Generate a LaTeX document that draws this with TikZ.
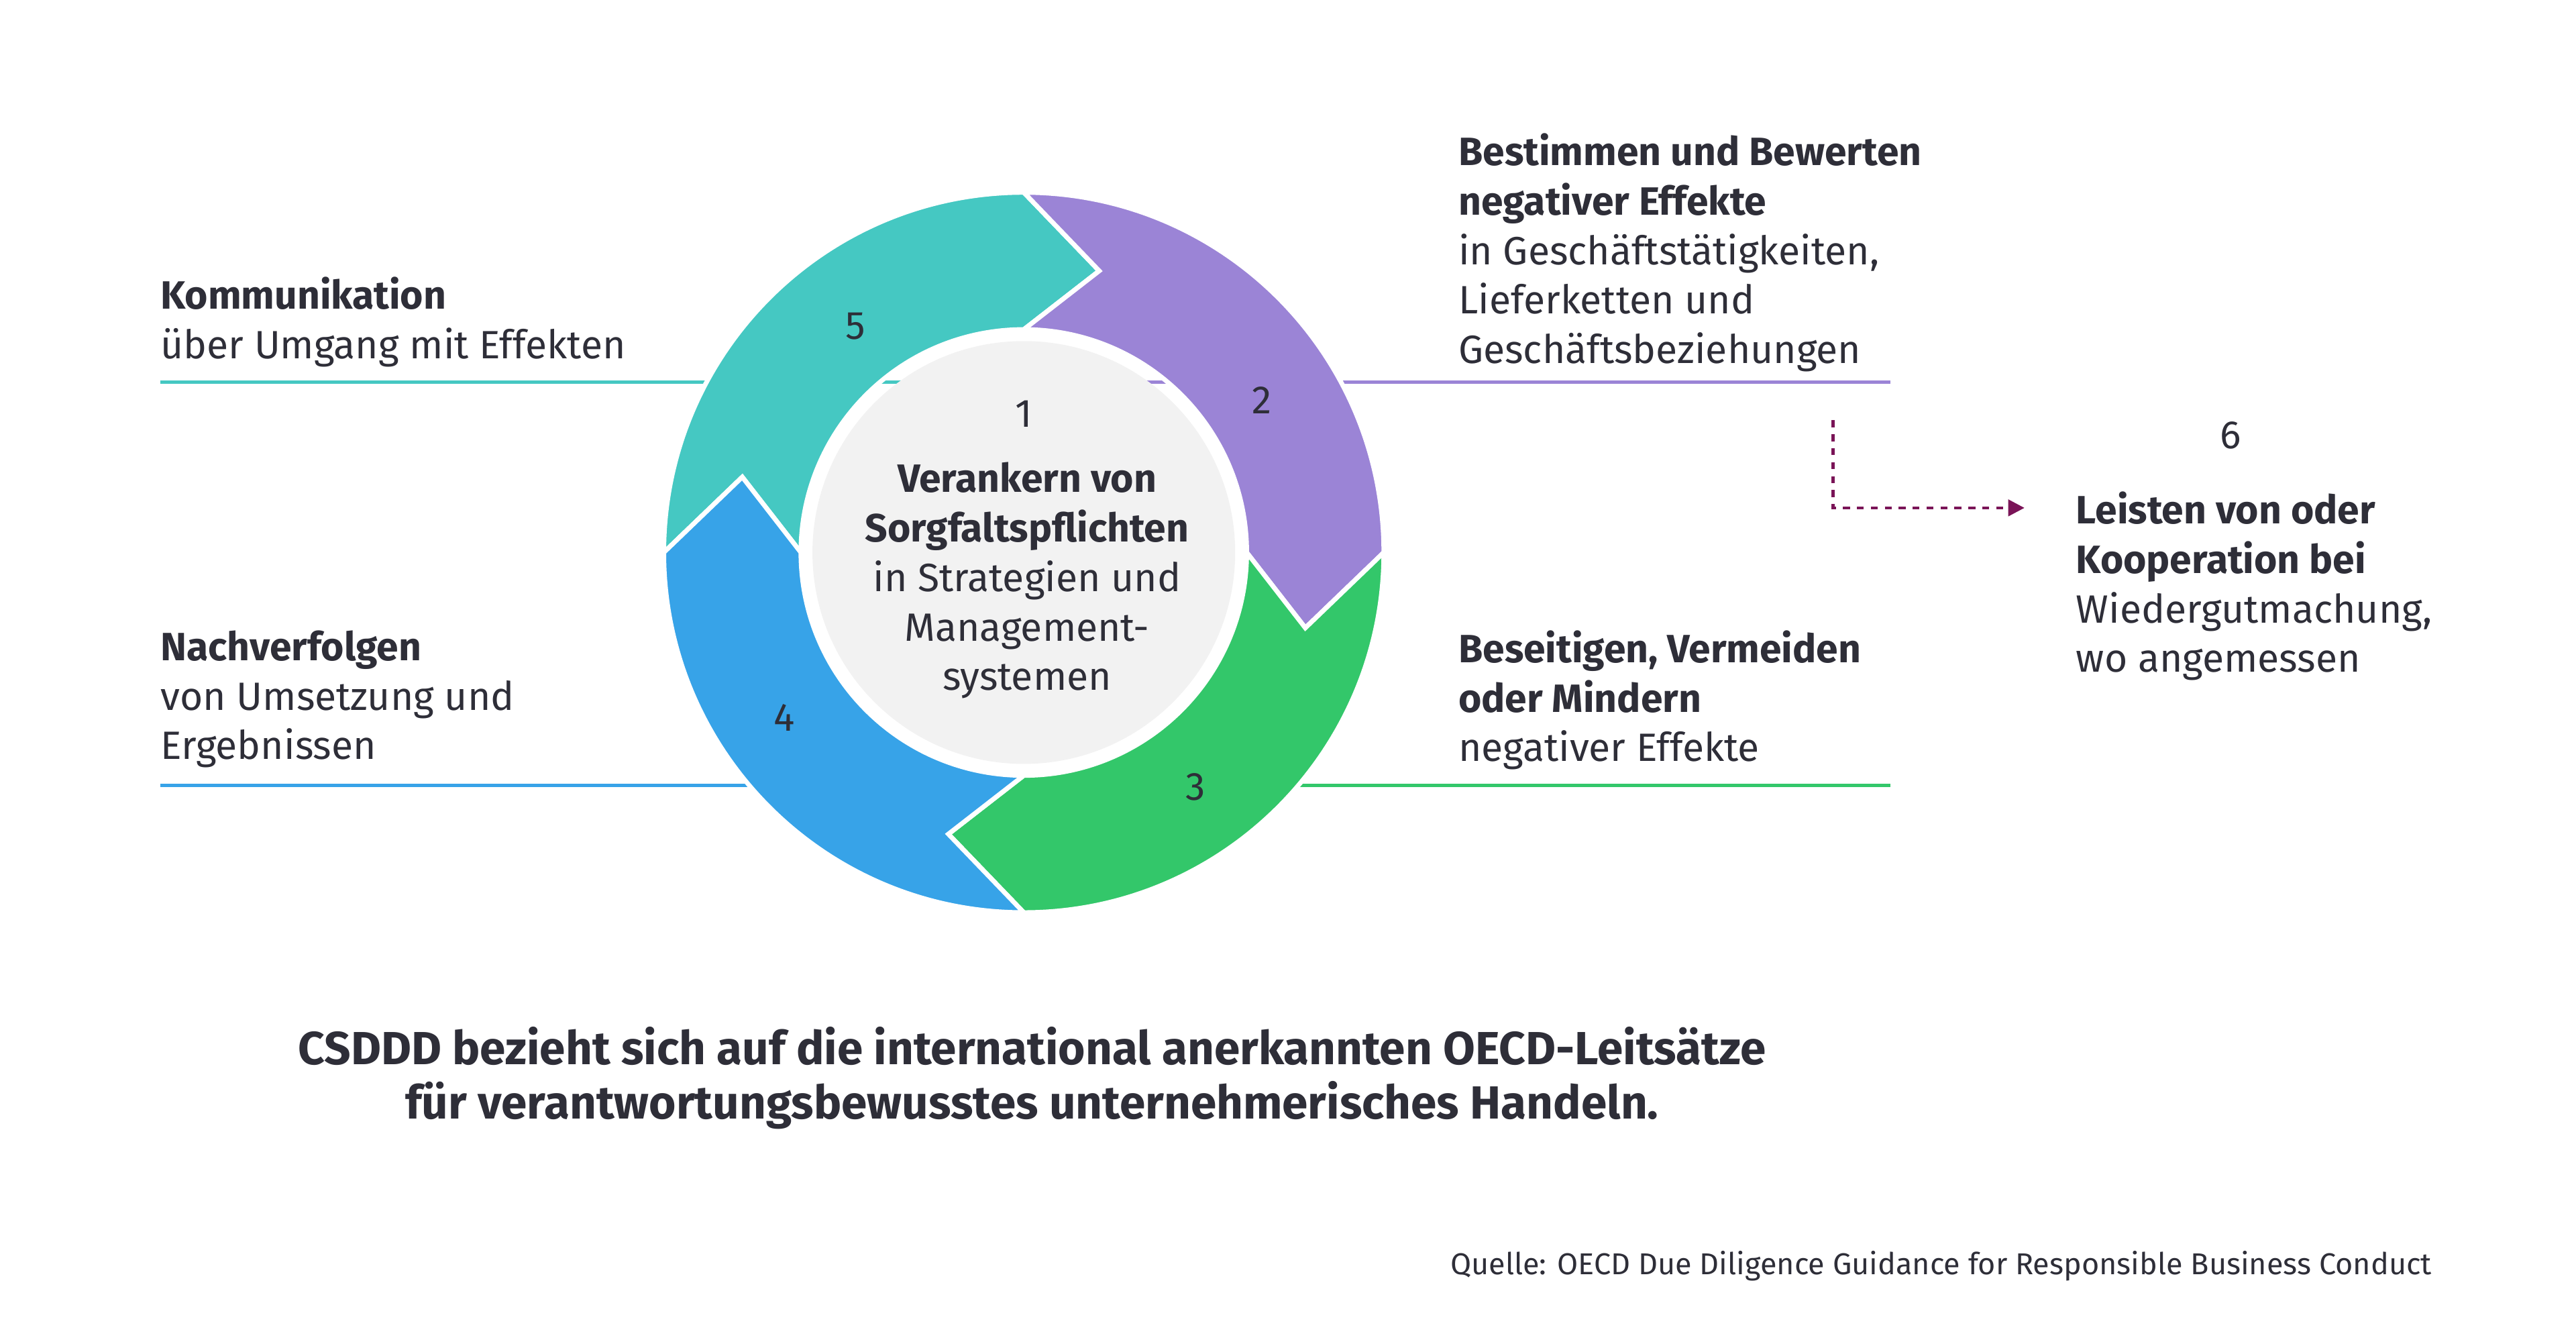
\documentclass[tikz,border=0pt]{standalone}
\usepackage{fontspec}
\setmainfont{Fira Sans}
\usetikzlibrary{arrows.meta}
\definecolor{inkgray}{HTML}{2E2E38}
\definecolor{segteal}{HTML}{45C8C2}
\definecolor{segpurple}{HTML}{9B84D6}
\definecolor{seggreen}{HTML}{33C76A}
\definecolor{segblue}{HTML}{37A3E8}
\definecolor{corebg}{HTML}{F2F2F2}
\definecolor{linkplum}{HTML}{7A1457}
\begin{document}
\begin{tikzpicture}[x=0.025cm, y=0.025cm, text=inkgray,
	txt/.style={anchor=north west, align=left, inner sep=0pt, font=\fontsize{17}{21.3}\selectfont},
	num/.style={font=\fontsize{17}{21.3}\selectfont},
	rule/.style={line width=1.5pt}]
	\useasboundingbox (0, 0) rectangle (1560, 812.5);
	\coordinate (c) at (620, 478);
	
	% guide lines behind the ring
	\draw[rule, segteal] (97, 581) -- (620, 581);
	\draw[rule, segpurple] (620, 581) -- (1145, 581);
	\draw[rule, segblue] (97, 337) -- (620, 337);
	\draw[rule, seggreen] (620, 337) -- (1145, 337);
	
	% ring segments
	\foreach \a/\col in {180/segteal, 90/segpurple, 0/seggreen, -90/segblue}
	\filldraw[fill=\col, draw=white, line width=2pt, line join=miter]
		([shift={(c)}]\a:218) arc[start angle=\a, end angle=\a-90, radius=218]
		-- ([shift={(c)}]\a-105:176.5) -- ([shift={(c)}]\a-90:135)
		arc[start angle=\a-90, end angle=\a, radius=135]
		-- ([shift={(c)}]\a-15:176.5) -- cycle;
	\fill[corebg] (c) circle (128);
	
	\node[num] (n1) at (620, 562) {1};
	\node[num] (n2) at (764, 570) {2};
	\node[num] (n3) at (724, 336) {3};
	\node[num] (n4) at (475, 378) {4};
	\node[num] (n5) at (518, 615) {5};
	\node[num] (n6) at (1351, 549) {6};
	
	\node[align=center, inner sep=0pt, font=\fontsize{17}{21.3}\selectfont] (core) at (622, 461)
		{\textbf{Verankern von}\\ \textbf{Sorgfaltspflichten}\\ in Strategien und\\ Management-\\ systemen};
	
	\node[txt] (komm) at (97, 645) {\textbf{Kommunikation}\\ über Umgang mit Effekten};
	\node[txt] (nach) at (97, 431) {\textbf{Nachverfolgen}\\ von Umsetzung und\\ Ergebnissen};
	\node[txt] (best) at (883, 732) {\textbf{Bestimmen und Bewerten}\\ \textbf{negativer Effekte}\\ in Geschäftstätigkeiten,\\ Lieferketten und\\ Geschäftsbeziehungen};
	\node[txt] (bese) at (883, 431) {\textbf{Beseitigen, Vermeiden}\\ \textbf{oder Mindern}\\ negativer Effekte};
	\node[txt] (leis) at (1257, 515) {\textbf{Leisten von oder}\\ \textbf{Kooperation bei}\\ Wiedergutmachung,\\ wo angemessen};
	
	\coordinate (linkstart) at (1110, 558);
	\coordinate (linkend) at (1226, 505);
	\draw[linkplum, line width=1.3pt, dashed, -{Triangle[length=7pt, width=7pt]}]
		(linkstart) |- (linkend);
	
	\node[align=center, inner sep=0pt, font=\fontsize{20}{23.4}\selectfont\bfseries] (claim) at (625, 160)
		{CSDDD bezieht sich auf die international anerkannten OECD-Leitsätze\\ für verantwortungsbewusstes unternehmerisches Handeln.};
	\node[anchor=east, inner sep=0pt, font=\fontsize{13}{16}\selectfont] (src) at (1473, 46)
		{Quelle: OECD Due Diligence Guidance for Responsible Business Conduct};
\end{tikzpicture}
\end{document}
